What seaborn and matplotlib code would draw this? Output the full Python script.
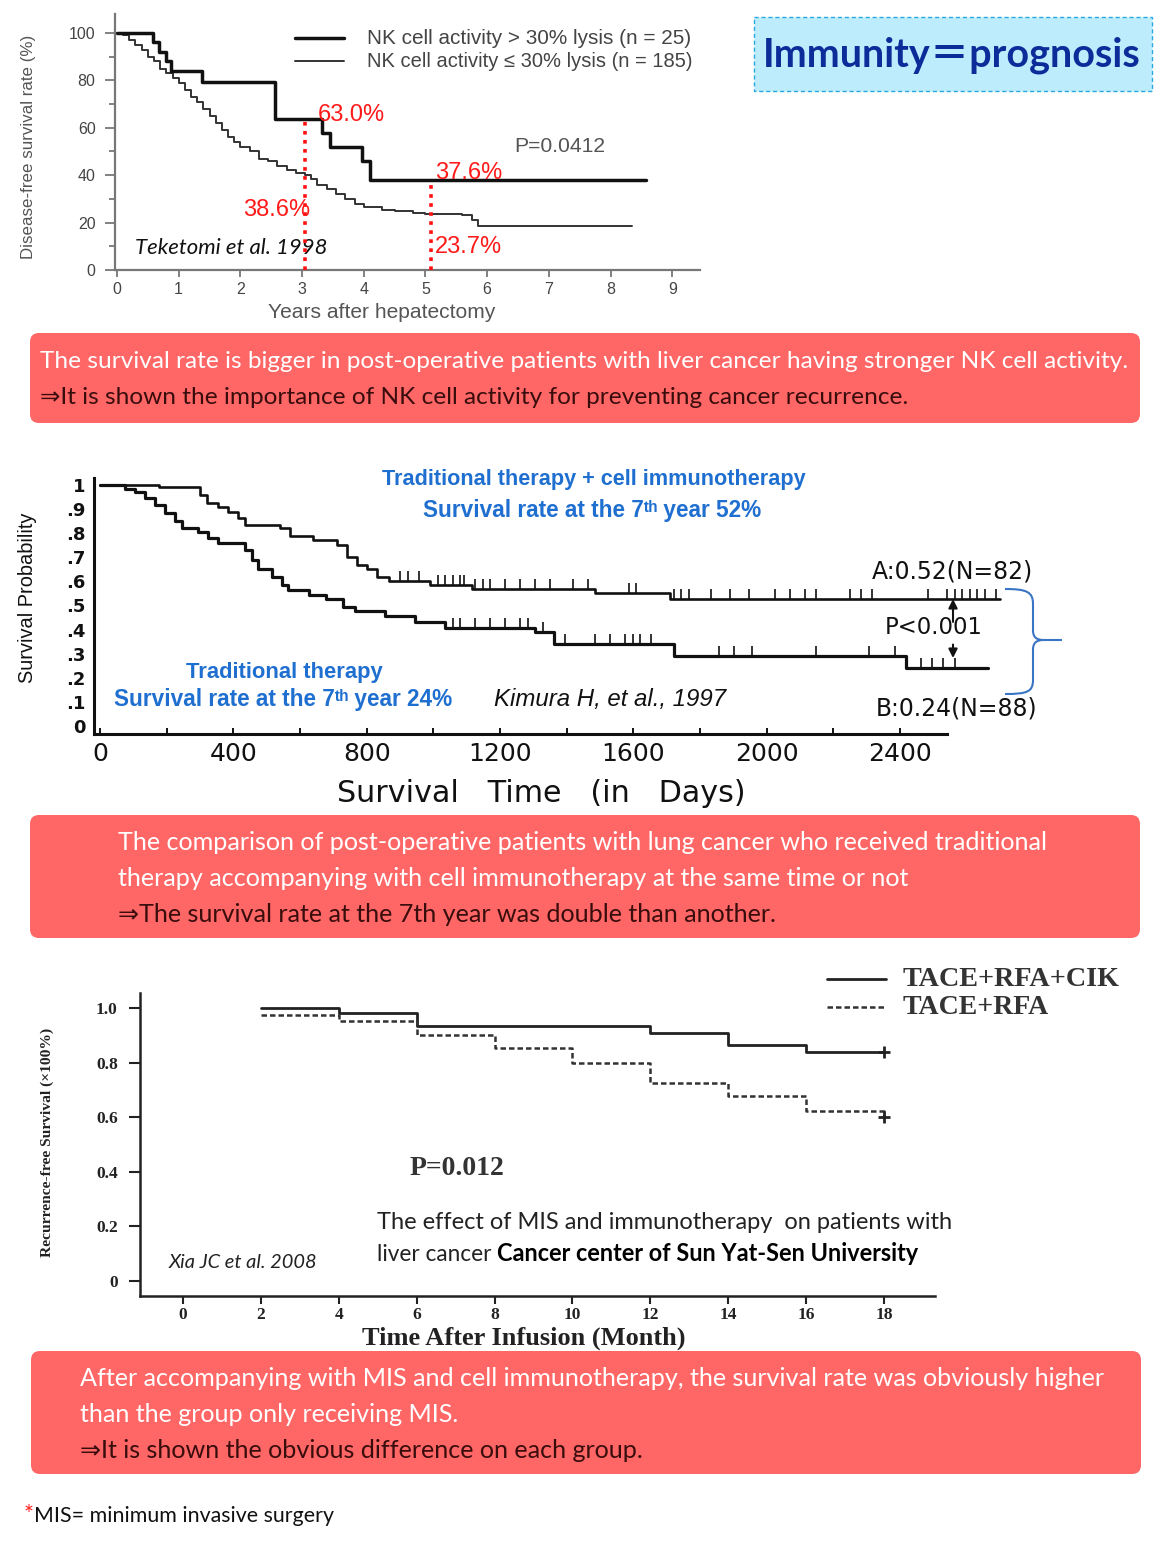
import numpy as np
import matplotlib
matplotlib.use('Agg')
import matplotlib.pyplot as plt
import seaborn as sns
from matplotlib.patches import FancyBboxPatch, Rectangle, PathPatch
from matplotlib.path import Path
from matplotlib.ticker import MultipleLocator

# ---------------- data ----------------
# Panel 1 : Teketomi et al. 1998 (years after hepatectomy, disease-free survival %)
p1_high_t = [0, 0.58, 0.68, 0.80, 0.88, 1.38, 2.56, 3.32, 3.45, 3.97, 4.10, 8.58]
p1_high_v = [100, 96, 92, 88, 84, 79.5, 63.5, 58, 52, 46, 38, 38]
p1_low_t = [0, 0.1, 0.2, 0.3, 0.4, 0.5, 0.6, 0.7, 0.8, 0.9,
            1.0, 1.1, 1.2, 1.3, 1.4, 1.5, 1.6, 1.7, 1.8, 1.9,
            2.0, 2.15, 2.3, 2.45, 2.6, 2.75, 2.9, 3.05, 3.15, 3.25,
            3.4, 3.55, 3.7, 3.85, 4.0, 4.3, 4.5, 4.8, 5.0, 5.6,
            5.75, 5.85, 8.35]
p1_low_v = [100, 99, 97, 95, 93, 90, 88, 85, 83, 81,
            79, 76, 73, 71, 68, 65, 62, 59, 56, 54,
            52, 50, 47, 46, 44, 42, 41, 40, 38.6, 36,
            34, 32, 30, 28, 26.5, 25.5, 25, 24, 23.7, 23,
            21, 18.5, 18.5]
p1_labels = ["NK cell activity > 30% lysis (n = 25)",
             "NK cell activity \u2264 30% lysis (n = 185)"]
p1_mark_x = [3.04, 5.09]
p1_mark_top = [63.0, 37.6]
p1_pct_text = ["63.0%", "38.6%", "37.6%", "23.7%"]
p1_pct_x = [3.25, 2.05, 5.16, 5.16]
p1_pct_y = [65.4, 25.3, 40.9, 9.7]
p1_xticks = [0, 1, 2, 3, 4, 5, 6, 7, 8, 9]
p1_yticks = [0, 20, 40, 60, 80, 100]

# Panel 2 : Kimura H et al. 1997 (days, survival probability)
p2_a_t = [0, 178, 300, 320, 355, 385, 415, 435, 540, 570, 640, 710, 740, 770,
          800, 830, 867, 991, 1115, 1485, 1710, 2699]
p2_a_v = [1.0, 0.99, 0.96, 0.925, 0.91, 0.89, 0.865, 0.835, 0.82, 0.79, 0.77,
          0.75, 0.70, 0.67, 0.65, 0.62, 0.60, 0.585, 0.57, 0.553, 0.525, 0.525]
p2_b_t = [0, 75, 105, 135, 165, 195, 226, 247, 295, 325, 355, 436, 457, 475,
          517, 547, 565, 626, 677, 728, 766, 856, 946, 1036, 1306, 1362, 1721,
          2418, 2665]
p2_b_v = [1.0, 0.985, 0.97, 0.945, 0.915, 0.885, 0.85, 0.82, 0.805, 0.78, 0.76,
          0.73, 0.69, 0.65, 0.62, 0.585, 0.565, 0.545, 0.525, 0.495, 0.476,
          0.455, 0.43, 0.405, 0.39, 0.34, 0.29, 0.24, 0.24]
p2_a_cens = [901, 924, 957, 1013, 1036, 1058, 1081, 1092, 1126, 1148, 1171, 1216,
             1261, 1306, 1351, 1418, 1463, 1587, 1609, 1721, 1744, 1766, 1834,
             1890, 1946, 2025, 2070, 2115, 2148, 2249, 2283, 2317, 2485, 2542,
             2564, 2587, 2609, 2631, 2654, 2688]
p2_b_cens = [1058, 1081, 1126, 1171, 1216, 1261, 1283, 1328, 1396, 1485, 1530,
             1575, 1598, 1620, 1654, 1856, 1901, 1957, 2148, 2306, 2384, 2463,
             2497, 2530, 2564]
p2_xticks = [0, 400, 800, 1200, 1600, 2000, 2400]
p2_xminor = [200, 600, 1000, 1400, 1800, 2200]
p2_yticks = [0, 0.1, 0.2, 0.3, 0.4, 0.5, 0.6, 0.7, 0.8, 0.9, 1.0]
p2_yticklabels = ["0", ".1", ".2", ".3", ".4", ".5", ".6", ".7", ".8", ".9", "1"]

# Panel 3 : Xia JC et al. 2008 (months, recurrence-free survival)
p3_cik_t = [2, 4, 6, 12, 14, 16, 18]
p3_cik_v = [1.0, 0.98, 0.935, 0.91, 0.865, 0.84, 0.84]
p3_rfa_t = [2, 4, 6, 8, 10, 12, 14, 16, 18]
p3_rfa_v = [0.975, 0.952, 0.90, 0.852, 0.80, 0.725, 0.678, 0.623, 0.60]
p3_labels = ["TACE+RFA+CIK", "TACE+RFA"]
p3_xticks = [0, 2, 4, 6, 8, 10, 12, 14, 16, 18]
p3_yticks = [0, 0.2, 0.4, 0.6, 0.8, 1.0]
p3_yticklabels = ["0", "0.2", "0.4", "0.6", "0.8", "1.0"]

box1_lines = ["The survival rate is bigger in post-operative patients with liver cancer having stronger NK cell activity.",
              "\u21d2It is shown the importance of NK cell activity for preventing cancer recurrence."]
box2_lines = ["The comparison of post-operative patients with lung cancer who received traditional",
              "therapy accompanying with cell immunotherapy at the same time or not",
              "\u21d2The survival rate at the 7th year was double than another."]
box3_lines = ["After accompanying with MIS and cell immunotherapy, the survival rate was obviously higher",
              "than the group only receiving MIS.",
              "\u21d2It is shown the obvious difference on each group."]

# ---------------- style ----------------
sns.set_theme(style='ticks')
plt.rcParams['font.family'] = ['Liberation Sans', 'DejaVu Sans']
SANS = ['Liberation Sans', 'DejaVu Sans']
NARROW = ['Liberation Sans', 'DejaVu Sans']
CAL = ['Lato', 'DejaVu Sans']
WIDE = ['DejaVu Sans']
SERIF = ['Liberation Serif', 'DejaVu Serif']
BOXF = ['Lato', 'DejaVu Sans']
BLUE = '#1f6fd0'

W, H = 1170, 1555
fig = plt.figure(figsize=(W / 100, H / 100), dpi=100, facecolor='white')
R = fig.canvas.get_renderer()


def rect(l, t, r, b):
    return [l / W, 1 - b / H, (r - l) / W, (b - t) / H]


def fit_w(t, w, k=1.0):
    bb = t.get_window_extent(renderer=R)
    if bb.width > 0:
        t.set_fontsize(t.get_fontsize() * w / bb.width * k)


def fit_h(t, h, k=1.0):
    bb = t.get_window_extent(renderer=R)
    if bb.height > 0:
        t.set_fontsize(t.get_fontsize() * h / bb.height * k)


# overlay in pixel coordinates
ov = fig.add_axes([0, 0, 1, 1])
ov.set_xlim(0, W)
ov.set_ylim(H, 0)
ov.axis('off')
ov.set_zorder(0)

# ================= Panel 1 =================
ax1 = fig.add_axes(rect(115, 14, 700, 270))
ax1.set_zorder(2)
ax1.patch.set_alpha(0)
sns.lineplot(x=p1_low_t, y=p1_low_v, drawstyle='steps-post', estimator=None,
             sort=False, color='#333333', linewidth=1.4, ax=ax1)
sns.lineplot(x=p1_high_t, y=p1_high_v, drawstyle='steps-post', estimator=None,
             sort=False, color='#111111', linewidth=2.5, ax=ax1)
h_low, h_high = ax1.get_lines()[0], ax1.get_lines()[1]
ax1.vlines(p1_mark_x, 0, p1_mark_top, colors='#ff1010', linestyles=(0, (1, 1.5)),
           linewidth=2.6, zorder=4)
ax1.set_xlim(-0.032, 9.45)
ax1.set_ylim(0, 108)
ax1.set_xticks(p1_xticks)
ax1.set_yticks(p1_yticks)
ax1.yaxis.set_minor_locator(MultipleLocator(10))
ax1.tick_params(axis='both', which='both', direction='out', color='#777777',
                labelcolor='#444444', labelsize=11.5, width=1.3)
ax1.tick_params(axis='y', which='major', length=7, pad=7)
ax1.tick_params(axis='y', which='minor', length=4)
ax1.tick_params(axis='x', length=5, pad=4)
for s in ['top', 'right']:
    ax1.spines[s].set_visible(False)
for s in ['left', 'bottom']:
    ax1.spines[s].set_color('#777777')
    ax1.spines[s].set_linewidth(1.6)
yl = ax1.set_ylabel('Disease-free survival rate (%)', family=NARROW, color='#555555', fontsize=12)
ax1.yaxis.set_label_coords(-0.135, 0.48)
fit_h(yl, 213, 1.05)
xl = ax1.set_xlabel('Years after hepatectomy', family=SANS, color='#555555', fontsize=12)
ax1.xaxis.set_label_coords(0.455, -0.129)
fit_w(xl, 228)
for s, x, y in zip(p1_pct_text, p1_pct_x, p1_pct_y):
    t = ax1.text(x, y, s, color='#ff1a1a', family=NARROW, fontsize=18, va='center', ha='left', zorder=5)
    fit_w(t, 67)
t = ax1.text(6.44, 52.3, 'P=0.0412', color='#555555', family=SANS, fontsize=11, va='center')
fit_w(t, 91)
t = ax1.text(0.29, 9.3, 'Teketomi et al. 1998', color='#111111', family=CAL, style='italic',
             fontsize=14, va='center')
fit_w(t, 193)
leg1 = ax1.legend([h_high, h_low], p1_labels, loc='upper left', bbox_to_anchor=(295, 29),
                  bbox_transform=ov.transData, frameon=False, borderpad=0, borderaxespad=0,
                  handlelength=2.95, handletextpad=1.35, labelspacing=0.25,
                  prop=dict(family=SANS, size=12))
for t in leg1.get_texts():
    t.set_color('#444444')
    fit_w(t, 325)

# ================= Panel 2 =================
ax2 = fig.add_axes(rect(94, 478, 1100, 734))
ax2.set_zorder(2)
ax2.patch.set_alpha(0)
sns.lineplot(x=p2_a_t, y=p2_a_v, drawstyle='steps-post', estimator=None, sort=False,
             color='#111111', linewidth=1.9, ax=ax2)
sns.lineplot(x=p2_b_t, y=p2_b_v, drawstyle='steps-post', estimator=None, sort=False,
             color='#111111', linewidth=2.3, ax=ax2)


def surv_at(times, vals, q):
    idx = np.searchsorted(np.asarray(times), np.asarray(q), side='right') - 1
    return np.asarray(vals)[idx]


ax2.plot(p2_a_cens, surv_at(p2_a_t, p2_a_v, p2_a_cens), linestyle='none', marker=2,
         markersize=7, markeredgewidth=1.2, color='#111111')
ax2.plot(p2_b_cens, surv_at(p2_b_t, p2_b_v, p2_b_cens), linestyle='none', marker=2,
         markersize=7, markeredgewidth=1.2, color='#111111')
ax2.set_xlim(-18, 3000)
ax2.set_ylim(-0.0332, 1.029)
ax2.set_xticks(p2_xticks)
ax2.set_xticks(p2_xminor, minor=True)
ax2.set_yticks(p2_yticks, labels=p2_yticklabels)
ax2.tick_params(axis='x', which='both', direction='in', length=4, width=1.4, color='#111111',
                labelsize=18, pad=6, labelcolor='#111111')
ax2.tick_params(axis='y', length=0, pad=6, labelsize=13, labelcolor='#111111')
for lab in ax2.get_xticklabels():
    lab.set_family(WIDE)
for lab in ax2.get_yticklabels():
    lab.set_family(WIDE)
    lab.set_fontweight('bold')
for s in ['top', 'right']:
    ax2.spines[s].set_visible(False)
for s in ['left', 'bottom']:
    ax2.spines[s].set_color('#111111')
    ax2.spines[s].set_linewidth(2.2)
ax2.spines['bottom'].set_bounds(-18, 2541)
xl = ax2.set_xlabel('Survival   Time   (in   Days)', family=WIDE, fontsize=16, color='#111111')
ax2.xaxis.set_label_coords(0.445, -0.175)
fit_w(xl, 445, 0.92)
yl = ax2.set_ylabel('Survival Probability', family=NARROW, fontsize=16, color='#111111')
ax2.yaxis.set_label_coords(-0.057, 0.531)
fit_h(yl, 163, 1.05)

t = ax2.text(1482, 1.021, 'Traditional therapy + cell immunotherapy', color=BLUE, family=NARROW,
             fontweight='bold', fontsize=16, ha='center', va='center')
fit_w(t, 422)
t = ax2.text(1476, 0.896, 'Survival rate at the 7\u1d57\u02b0 year 52%', color=BLUE, family=NARROW,
             fontweight='bold', fontsize=16, ha='center', va='center')
fit_w(t, 339)
t = ax2.text(552, 0.224, 'Traditional therapy', color=BLUE, family=NARROW,
             fontweight='bold', fontsize=16, ha='center', va='center')
fit_w(t, 197)
t = ax2.text(42, 0.108, 'Survival rate at the 7\u1d57\u02b0 year 24%', color=BLUE, family=NARROW,
             fontweight='bold', fontsize=16, ha='left', va='center')
fit_w(t, 339)
t = ax2.text(1182, 0.108, 'Kimura H, et al., 1997', color='#111111', family=NARROW,
             style='italic', fontsize=16, ha='left', va='center')
fit_w(t, 232)
t = ax2.text(2316, 0.643, 'A:0.52(N=82)', color='#111111', family=WIDE, fontsize=13, va='center')
fit_w(t, 183, 0.88)
t = ax2.text(2355, 0.407, 'P<0.001', color='#111111', family=WIDE, fontsize=13, va='center')
fit_w(t, 110, 0.88)
t = ax2.text(2328, 0.071, 'B:0.24(N=88)', color='#111111', family=WIDE, fontsize=13, va='center')
fit_w(t, 183, 0.88)
ax2.annotate('', xy=(2559, 0.527), xytext=(2559, 0.432),
             arrowprops=dict(arrowstyle='-|>', color='#111111', lw=1.5, mutation_scale=13,
                             shrinkA=0, shrinkB=0))
ax2.annotate('', xy=(2559, 0.282), xytext=(2559, 0.338),
             arrowprops=dict(arrowstyle='-|>', color='#111111', lw=1.5, mutation_scale=13,
                             shrinkA=0, shrinkB=0))

# blue brace (pixel coordinates)
verts = [(1005, 589), (1027, 589), (1033, 592), (1033, 604),
         (1033, 630),
         (1033, 637), (1036, 640), (1044, 640),
         (1062, 640),
         (1044, 640), (1036, 640), (1033, 643), (1033, 650),
         (1033, 680),
         (1033, 692), (1027, 694), (1005, 694)]
codes = [Path.MOVETO, Path.CURVE4, Path.CURVE4, Path.CURVE4,
         Path.LINETO,
         Path.CURVE4, Path.CURVE4, Path.CURVE4,
         Path.LINETO,
         Path.MOVETO, Path.CURVE4, Path.CURVE4, Path.CURVE4,
         Path.LINETO,
         Path.CURVE4, Path.CURVE4, Path.CURVE4]
ov.add_patch(PathPatch(Path(verts, codes), fill=False, edgecolor='#3a74c5', lw=1.5))

# ================= Panel 3 =================
ax3 = fig.add_axes(rect(140, 993, 935, 1296))
ax3.set_zorder(2)
ax3.patch.set_alpha(0)
sns.lineplot(x=p3_cik_t, y=p3_cik_v, drawstyle='steps-post', estimator=None, sort=False,
             color='#222222', linewidth=2.0, ax=ax3)
sns.lineplot(x=p3_rfa_t, y=p3_rfa_v, drawstyle='steps-post', estimator=None, sort=False,
             color='#333333', linewidth=1.8, linestyle=(0, (2.2, 1.2)), ax=ax3)
h_cik, h_rfa = ax3.get_lines()[0], ax3.get_lines()[1]
ax3.plot(p3_cik_t[-1:], p3_cik_v[-1:], linestyle='none', marker='+', markersize=9,
         markeredgewidth=2, color='#222222')
ax3.plot(p3_rfa_t[-1:], p3_rfa_v[-1:], linestyle='none', marker='+', markersize=9,
         markeredgewidth=2, color='#222222')
ax3.set_xlim(-1.104, 19.31)
ax3.set_ylim(-0.055, 1.055)
ax3.set_xticks(p3_xticks)
ax3.set_yticks(p3_yticks, labels=p3_yticklabels)
ax3.tick_params(axis='both', direction='out', width=1.5, color='#222222', labelsize=12.5,
                labelcolor='#222222')
ax3.tick_params(axis='x', length=6, pad=2)
ax3.tick_params(axis='y', length=8, pad=8)
for lab in ax3.get_xticklabels() + ax3.get_yticklabels():
    lab.set_family(SERIF)
    lab.set_fontweight('bold')
for s in ['top', 'right']:
    ax3.spines[s].set_visible(False)
for s in ['left', 'bottom']:
    ax3.spines[s].set_color('#222222')
    ax3.spines[s].set_linewidth(1.8)
xl = ax3.set_xlabel('Time After Infusion (Month)', family=SERIF, fontweight='bold', fontsize=15,
                    color='#222222')
ax3.xaxis.set_label_coords(0.483, -0.1)
fit_w(xl, 369, 0.88)
yl = ax3.set_ylabel('Recurrence-free Survival (\u00d7100%)', family=SERIF, fontweight='bold',
                    fontsize=13, color='#222222')
ax3.yaxis.set_label_coords(-0.108, 0.508)
fit_h(yl, 207, 1.1)
t = ax3.text(5.83, 0.412, 'P=0.012', family=SERIF, fontweight='bold', fontsize=14,
             color='#333333', va='center')
fit_w(t, 104, 0.92)
t = ax3.text(4.97, 0.214, 'The effect of MIS and immunotherapy  on patients with', family=CAL,
             fontsize=16, color='#222222', va='center')
fit_w(t, 578)
t1 = ax3.text(4.97, 0.098, 'liver cancer ', family=CAL, fontsize=16, color='#222222', va='center')
fit_w(t1, 121)
t2 = ax3.annotate('Cancer center of Sun Yat-Sen University', xy=(1, 0), xycoords=t1,
                  ha='left', va='bottom', family=CAL, fontweight='bold', fontsize=16,
                  color='#000000')
fit_w(t2, 424)
t = ax3.text(-0.38, 0.067, 'Xia JC et al. 2008', family=CAL, style='italic', fontsize=13,
             color='#222222', va='center')
fit_w(t, 149)
leg3 = ax3.legend([h_cik, h_rfa], p3_labels, loc='upper left', bbox_to_anchor=(827, 967),
                  bbox_transform=ov.transData, frameon=False, borderpad=0, borderaxespad=0,
                  handlelength=2.84, handletextpad=0.77, labelspacing=0.15,
                  prop=dict(family=SERIF, weight='bold', size=15))
for t, w in zip(leg3.get_texts(), [230, 155]):
    t.set_color('#333333')
    fit_w(t, w, 0.95)

# ================= overlay boxes & notes =================
ov.add_patch(Rectangle((754, 17), 398, 74, facecolor='#bdedfc', edgecolor='#2aa8e0',
                       linestyle=(0, (3, 2)), linewidth=1))
t = ov.text(952, 55, 'Immunity\uff1dprognosis', color='#0a2d9a', fontweight='bold',
            family=['Lato', 'Noto Sans CJK JP', 'DejaVu Sans'], fontsize=26,
            ha='center', va='center')
fit_w(t, 378)

RED = '#ff6666'
DARK = '#3a0d0d'
for (x0, y0, h) in [(30, 333, 90), (30, 815, 123), (31, 1351, 123)]:
    ov.add_patch(FancyBboxPatch((x0, y0), 1110, h, boxstyle='round,pad=0,rounding_size=9',
                                facecolor=RED, edgecolor='none'))


def box_text(lines, x, ys, w_first):
    texts = []
    for i, (s, y) in enumerate(zip(lines, ys)):
        col = DARK if s.startswith('\u21d2') else 'white'
        texts.append(ov.text(x, y, s, color=col, family=BOXF, fontsize=16, ha='left', va='center'))
    fit_w(texts[0], w_first)
    for tt in texts[1:]:
        tt.set_fontsize(texts[0].get_fontsize())


box_text(box1_lines, 40, [362, 398], 1093)
box_text(box2_lines, 118, [843, 879, 915], 937)
box_text(box3_lines, 80, [1379, 1415, 1451], 1031)

ts = ov.text(24, 1515, '*', color='#ff2020', family=BOXF, fontsize=17, ha='left', va='center')
tf = ov.annotate('MIS= minimum invasive surgery', xy=(1, 0), xycoords=ts, ha='left', va='bottom',
                 family=BOXF, fontsize=14, color='#111111')
fit_w(tf, 300)

fig.savefig('out.png', dpi=100, facecolor='white')
